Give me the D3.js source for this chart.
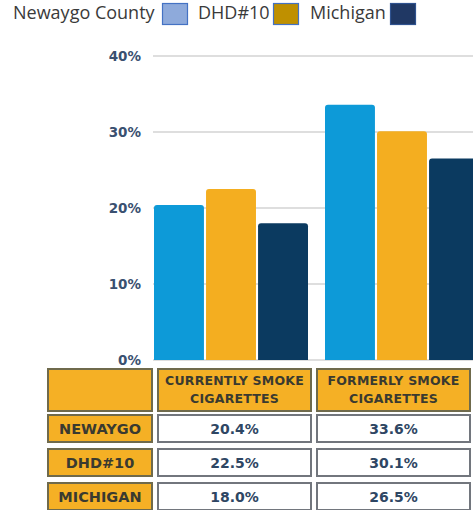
<!DOCTYPE html>
<html lang="en">
<head>
<meta charset="UTF-8">
<title>Smoking</title>
<script src="https://cdn.jsdelivr.net/npm/d3@7"></script>
<style>
    body { margin: 0; background: #fff; }
    svg { display: block; }
</style>
</head>
<body>
<div id="chart"></div>
<script>
    // 数据
    const categories = ["CURRENTLY SMOKE CIGARETTES", "FORMERLY SMOKE CIGARETTES"];
    const headerLines = [["CURRENTLY SMOKE", "CIGARETTES"], ["FORMERLY SMOKE", "CIGARETTES"]];
    const seriesNames = ["Newaygo County", "DHD#10", "Michigan"];
    const rowLabels = ["NEWAYGO", "DHD#10", "MICHIGAN"];
    const newaygo = [20.4, 33.6];
    const dhd10 = [22.5, 30.1];
    const michigan = [18.0, 26.5];
    const yTicks = [0, 10, 20, 30, 40];

    const seriesValues = [newaygo, dhd10, michigan];
    const barColors = ["#0d9ad8", "#f4ae20", "#0b3a60"];
    const legendFill = ["#8eaadb", "#bf9000", "#203864"];
    const legendStroke = ["#4472c4", "#4472c4", "#2f528f"];

    const width = 473, height = 510;
    const svg = d3.select("#chart").append("svg")
        .attr("width", width).attr("height", height)
        .style("background", "#fff");

    // 图例
    const legendX = [13, 198, 310];
    const legendBoxX = [162, 273, 390];
    seriesNames.forEach((name, i) => {
        svg.append("text")
            .attr("x", legendX[i]).attr("y", 19)
            .style("font-family", "'Open Sans'")
            .style("font-size", "18px")
            .style("fill", "#3a3a3a")
            .text(name);
        svg.append("rect")
            .attr("x", legendBoxX[i] + 0.5).attr("y", 3.5)
            .attr("width", 25).attr("height", 21)
            .attr("fill", legendFill[i])
            .attr("stroke", legendStroke[i]).attr("stroke-width", 1.2);
    });

    // 比例尺
    const y = d3.scaleLinear().domain([0, 40]).range([360, 56]);
    const x0 = d3.scaleBand().domain(categories).range([154, 479]).paddingInner(0.0994).paddingOuter(0);
    const x1 = d3.scaleBand().domain(seriesNames).range([0, x0.bandwidth()]).paddingInner(0.04);

    // 网格线
    svg.append("g").selectAll("line")
        .data(yTicks)
        .join("line")
        .attr("x1", 153).attr("x2", width)
        .attr("y1", d => y(d)).attr("y2", d => y(d))
        .attr("stroke", "#d3d3d3").attr("stroke-width", 1.5);

    // y轴文字
    svg.append("g").selectAll("text")
        .data(yTicks)
        .join("text")
        .attr("x", 141).attr("y", d => y(d))
        .attr("dy", "0.36em")
        .attr("text-anchor", "end")
        .style("font-family", "'DejaVu Sans'")
        .style("font-weight", "bold")
        .style("font-size", "13.5px")
        .style("fill", "#3a5070")
        .text(d => d + "%");

    // 柱子（上方圆角）
    const r = 3;
    const barPath = (x, w, top, bottom) =>
        `M${x},${bottom}V${top + r}Q${x},${top} ${x + r},${top}H${x + w - r}Q${x + w},${top} ${x + w},${top + r}V${bottom}Z`;

    categories.forEach((cat, ci) => {
        svg.append("g")
            .selectAll("path")
            .data(seriesNames.map((s, si) => ({ s, si, v: seriesValues[si][ci] })))
            .join("path")
            .attr("d", d => barPath(x0(cat) + x1(d.s), x1.bandwidth(), y(d.v), y(0)))
            .attr("fill", d => barColors[d.si]);
    });

    // 表格
    const colX = [47, 157, 316];
    const colW = [106, 155, 155];
    const headerY = 368, headerH = 44;
    const rowY = [414, 448, 482];
    const rowH = 29;
    const tableFont = "'DejaVu Sans'";

    const cell = (x, yy, w, h, fill, stroke) =>
        svg.append("rect")
            .attr("x", x + 1).attr("y", yy + 1)
            .attr("width", w - 2).attr("height", h - 2)
            .attr("fill", fill).attr("stroke", stroke).attr("stroke-width", 2);

    // 表头
    cell(colX[0], headerY, colW[0], headerH, "#f5b025", "#6f6a4c");
    headerLines.forEach((lines, ci) => {
        cell(colX[ci + 1], headerY, colW[ci + 1], headerH, "#f5b025", "#6f6a4c");
        lines.forEach((ln, li) => {
            svg.append("text")
                .attr("x", colX[ci + 1] + colW[ci + 1] / 2)
                .attr("y", 385 + li * 18)
                .attr("text-anchor", "middle")
                .style("font-family", tableFont)
                .style("font-weight", "bold")
                .style("font-size", "12.5px")
                .style("letter-spacing", "0.2px")
                .style("fill", "#3a3a30")
                .text(ln);
        });
    });

    // 数据行
    rowLabels.forEach((lab, ri) => {
        cell(colX[0], rowY[ri], colW[0], rowH, "#f5b025", "#6f6a4c");
        svg.append("text")
            .attr("x", colX[0] + colW[0] / 2)
            .attr("y", rowY[ri] + rowH / 2 + 5)
            .attr("text-anchor", "middle")
            .style("font-family", tableFont)
            .style("font-weight", "bold")
            .style("font-size", "14.5px")
            .style("fill", "#3a3a30")
            .text(lab);
        categories.forEach((cat, ci) => {
            cell(colX[ci + 1], rowY[ri], colW[ci + 1], rowH, "#ffffff", "#72767d");
            svg.append("text")
                .attr("x", colX[ci + 1] + colW[ci + 1] / 2)
                .attr("y", rowY[ri] + rowH / 2 + 5)
                .attr("text-anchor", "middle")
                .style("font-family", tableFont)
                .style("font-weight", "bold")
                .style("font-size", "14px")
                .style("fill", "#2e4663")
                .text(seriesValues[ri][ci].toFixed(1) + "%");
        });
    });
</script>
</body>
</html>
